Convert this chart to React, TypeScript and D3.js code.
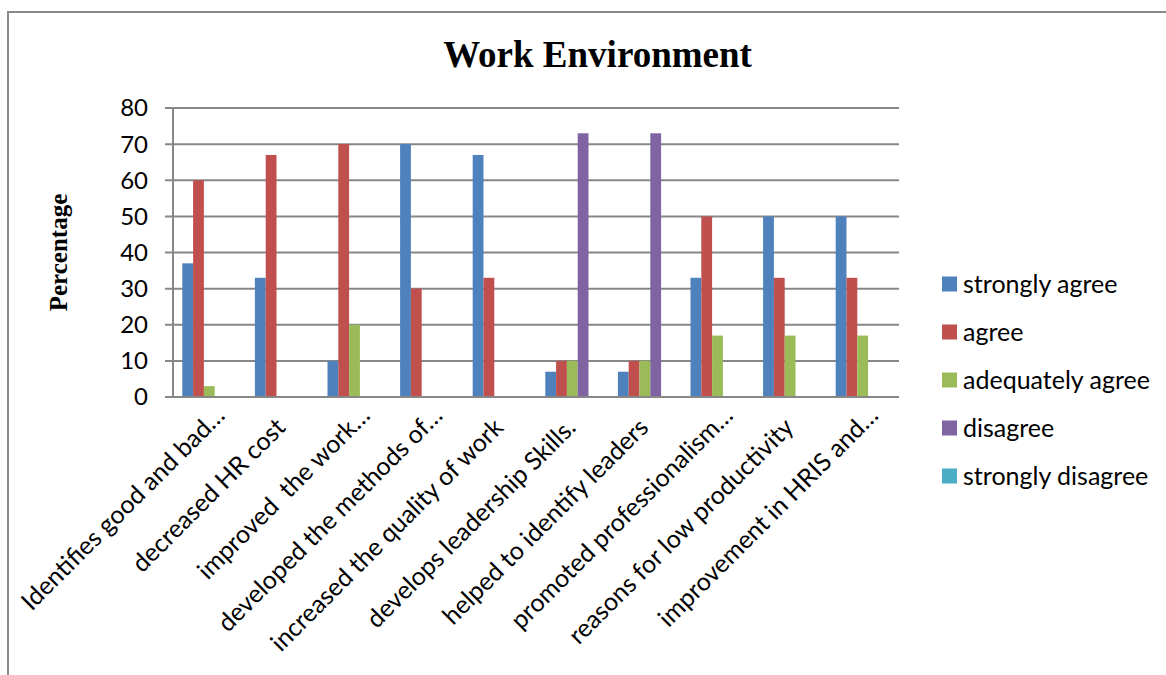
import React from "react";
import * as d3 from "d3";

// Survey responses on the work environment, in percent
const categories = [
  "Identifies good and bad…",
  "decreased HR cost",
  "improved  the work…",
  "developed the methods of…",
  "increased the quality of work",
  "develops leadership Skills.",
  "helped to identify leaders",
  "promoted professionalism…",
  "reasons for low productivity",
  "improvement in HRIS and…",
];
const seriesNames = ["strongly agree", "agree", "adequately agree", "disagree", "strongly disagree"];
const stronglyAgree = [37, 33, 10, 70, 67, 7, 7, 33, 50, 50];
const agree = [60, 67, 70, 30, 33, 10, 10, 50, 33, 33];
const adequatelyAgree = [3, 0, 20, 0, 0, 10, 10, 17, 17, 17];
const disagree = [0, 0, 0, 0, 0, 73, 73, 0, 0, 0];
const stronglyDisagree = [0, 0, 0, 0, 0, 0, 0, 0, 0, 0];
const yTicks = [0, 10, 20, 30, 40, 50, 60, 70, 80];
const colors = ["#4F81BD", "#C0504D", "#9BBB59", "#8064A2", "#4BACC6"];

const W = 1166;
const H = 675;
const plot = { left: 173, right: 899, top: 108, bottom: 397 };
const sansFont = "Lato, 'Open Sans', sans-serif";
const serifFont = "'Liberation Serif', 'Times New Roman', serif";
const gridColor = "#878787";

export default function App() {
  const values = [stronglyAgree, agree, adequatelyAgree, disagree, stronglyDisagree];

  const x = d3
    .scaleBand<string>()
    .domain(categories)
    .range([plot.left, plot.right])
    .paddingInner(0.256)
    .paddingOuter(0.128);
  const xs = d3
    .scaleBand<string>()
    .domain(seriesNames)
    .range([0, x.bandwidth()])
    .padding(0);
  const y = d3.scaleLinear().domain([0, 80]).range([plot.bottom, plot.top]);

  const legendY = d3
    .scalePoint<string>()
    .domain(seriesNames)
    .range([284, 476]);

  return (
    <svg
      width={W}
      height={H}
      style={{ position: "absolute", left: 0, top: 0, background: "#fff" }}
    >
      <rect x={0} y={0} width={W} height={H} fill="#fff" />
      {/* chart frame */}
      <path d={`M8,${H} V12 H${W}`} fill="none" stroke="#8a8a8a" strokeWidth={2} />

      <text
        x={597.5}
        y={67}
        textAnchor="middle"
        fontFamily={serifFont}
        fontWeight="bold"
        fontSize={37}
        fill="#000"
      >
        Work Environment
      </text>

      <text
        transform={`translate(67,${(plot.top + plot.bottom) / 2}) rotate(-90)`}
        textAnchor="middle"
        fontFamily={serifFont}
        fontWeight="bold"
        fontSize={25}
        fill="#000"
      >
        Percentage
      </text>

      {/* gridlines, ticks and y labels */}
      {yTicks.map((t) => (
        <g key={t}>
          <line
            x1={plot.left - 8}
            x2={plot.right}
            y1={y(t)}
            y2={y(t)}
            stroke={gridColor}
            strokeWidth={2}
          />
          <text
            x={148}
            y={y(t)}
            dy="0.35em"
            textAnchor="end"
            fontFamily={sansFont}
            fontSize={24}
            fill="#000"
          >
            {t}
          </text>
        </g>
      ))}
      <line
        x1={plot.left}
        x2={plot.left}
        y1={plot.top}
        y2={plot.bottom}
        stroke={gridColor}
        strokeWidth={2}
      />

      {/* bars */}
      {categories.map((c, i) => (
        <g key={c} transform={`translate(${x(c)},0)`}>
          {seriesNames.map((s, k) => {
            const v = values[k][i];
            if (!v) return null;
            return (
              <rect
                key={s}
                x={xs(s)}
                y={y(v)}
                width={xs.bandwidth()}
                height={y(0) - y(v)}
                fill={colors[k]}
              />
            );
          })}
        </g>
      ))}
      <line
        x1={plot.left - 8}
        x2={plot.right}
        y1={plot.bottom}
        y2={plot.bottom}
        stroke={gridColor}
        strokeWidth={2}
      />

      {/* rotated category labels; truncated ones run a little past the tick */}
      {categories.map((c) => {
        const cx = (x(c) as number) + x.bandwidth() / 2;
        const extra = c.endsWith("…") ? 12 : 0;
        return (
          <text
            key={c}
            transform={`translate(${cx + 5 + extra},${429 - extra}) rotate(-45)`}
            textAnchor="end"
            fontFamily={sansFont}
            fontSize={25}
            fill="#000"
            style={{ whiteSpace: "pre" }}
          >
            {c}
          </text>
        );
      })}

      {/* legend */}
      {seriesNames.map((s, k) => (
        <g key={s} transform={`translate(942,${legendY(s)})`}>
          <rect x={0} y={-7.5} width={15} height={15} fill={colors[k]} />
          <text
            x={21}
            y={0}
            dy="0.35em"
            fontFamily={sansFont}
            fontSize={25}
            fill="#000"
          >
            {s}
          </text>
        </g>
      ))}
    </svg>
  );
}
